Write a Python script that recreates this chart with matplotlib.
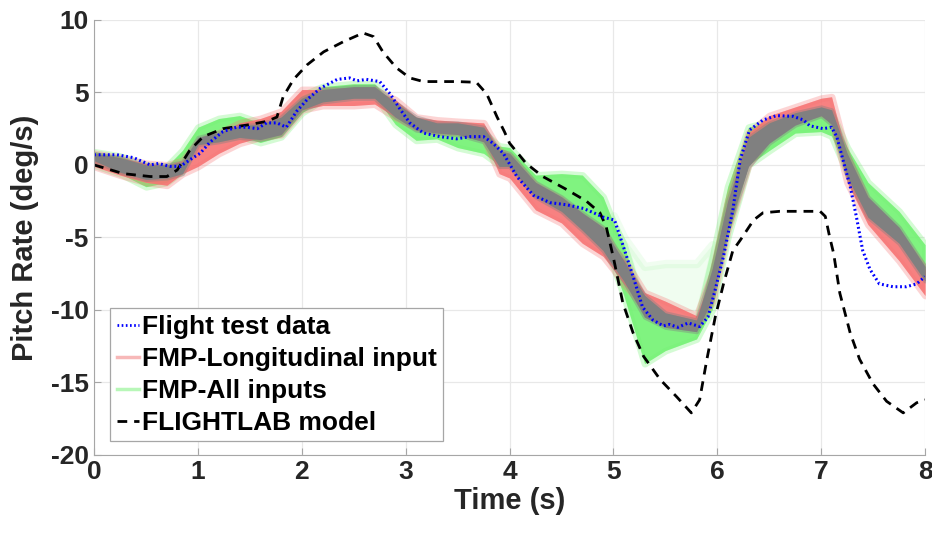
import matplotlib
matplotlib.use("Agg")
import matplotlib.pyplot as plt
from matplotlib.lines import Line2D

plt.rcParams['font.family'] = ['Liberation Sans', 'DejaVu Sans']
plt.rcParams['font.weight'] = 'bold'
plt.rcParams['axes.unicode_minus'] = False

# Flight test data (blue dotted)
flight_t = [0.0, 0.22, 0.38, 0.54, 0.62, 0.73, 0.83, 0.92, 1.02, 1.12, 1.24, 1.37, 1.47,
            1.57, 1.66, 1.76, 1.85, 1.95, 2.05, 2.18, 2.34, 2.46, 2.53, 2.62, 2.75, 2.85,
            2.95, 3.04, 3.17, 3.33, 3.49, 3.62, 3.75, 3.84, 3.94, 4.07, 4.23, 4.39, 4.55,
            4.71, 4.81, 4.9, 5.01, 5.09, 5.19, 5.28, 5.38, 5.48, 5.54, 5.62, 5.72, 5.83,
            5.91, 5.98, 6.06, 6.15, 6.22, 6.31, 6.44, 6.57, 6.73, 6.83, 6.89, 7.02, 7.1,
            7.15, 7.21, 7.28, 7.34, 7.4, 7.47, 7.56, 7.69, 7.82, 7.92, 8.0]
flight_q = [0.7, 0.7, 0.5, 0.0, 0.1, -0.1, -0.1, 0.35, 0.8, 1.6, 2.3, 2.6, 2.6,
            2.5, 2.9, 2.9, 2.6, 3.7, 4.5, 5.3, 5.9, 6.0, 5.8, 5.9, 5.75, 4.9,
            3.8, 2.9, 2.2, 1.95, 1.8, 1.95, 1.95, 1.5, 0.8, -0.8, -2.1, -2.6, -2.75,
            -3.0, -3.3, -3.6, -3.8, -5.5, -7.7, -9.8, -10.7, -11.1, -11.0, -11.2, -10.9, -11.15,
            -10.5, -8.6, -6.3, -3.1, 0.35, 2.4, 3.1, 3.4, 3.35, 3.1, 2.7, 2.5, 2.6,
            1.95, 0.35, -1.5, -3.6, -5.9, -7.2, -8.2, -8.4, -8.4, -8.2, -7.7]

# FLIGHTLAB model (black dashed)
flab_t = [0.0, 0.28, 0.54, 0.7, 0.8, 0.92, 1.05, 1.24, 1.47, 1.66, 1.76, 1.82, 1.92,
          2.05, 2.21, 2.4, 2.59, 2.69, 2.78, 2.91, 3.04, 3.17, 3.49, 3.68, 3.78, 3.88,
          3.95, 4.0, 4.16, 4.32, 4.55, 4.74, 4.87, 4.93, 5.0, 5.09, 5.19, 5.29, 5.45,
          5.61, 5.75, 5.83, 5.9, 5.98, 6.06, 6.15, 6.22, 6.35, 6.44, 6.6, 6.99, 7.04,
          7.08, 7.12, 7.18, 7.28, 7.37, 7.5, 7.63, 7.79, 7.92, 8.0]
flab_q = [0.0, -0.6, -0.8, -0.8, -0.35, 1.0, 1.95, 2.5, 2.75, 3.0, 3.3, 4.7, 5.9,
          6.9, 7.8, 8.5, 9.1, 8.85, 7.8, 6.7, 6.0, 5.75, 5.75, 5.7, 4.9, 3.3,
          2.3, 1.5, 0.1, -0.8, -1.7, -2.5, -3.3, -4.25, -6.4, -9.5, -11.6, -13.2, -14.8,
          -16.0, -17.1, -16.2, -13.4, -10.5, -8.2, -5.9, -5.2, -3.8, -3.3, -3.2, -3.2, -3.55,
          -4.9, -6.1, -8.85, -11.6, -13.4, -15.1, -16.3, -17.1, -16.4, -16.2]

# FMP prediction envelopes
band_t = [0.0, 0.25, 0.5, 0.7, 0.85, 1.0, 1.2, 1.4, 1.6, 1.8, 2.0, 2.2, 2.5, 2.7,
          2.9, 3.1, 3.3, 3.5, 3.75, 3.9, 4.0, 4.25, 4.5, 4.7, 4.9, 5.0, 5.1, 5.3,
          5.5, 5.8, 5.95, 6.1, 6.3, 6.5, 6.75, 7.0, 7.1, 7.25, 7.45, 7.75, 8.0]
red_lo = [-0.1, -0.7, -1.2, -1.4, -0.6, -0.1, 0.8, 1.5, 1.9, 2.1, 3.8, 4.1, 4.1, 4.2,
          3.3, 2.6, 2.3, 2.3, 1.9, -0.6, -0.9, -3.1, -4.0, -5.4, -6.3, -7.2, -8.2, -9.8,
          -10.8, -11.0, -9.5, -4.5, 0.0, 2.0, 3.2, 3.6, 3.2, -1.2, -4.1, -6.6, -9.0]
red_hi = [0.8, 0.5, 0.1, 0.0, 0.3, 1.6, 2.2, 2.9, 3.2, 3.7, 5.2, 5.2, 5.0, 5.2,
          4.5, 3.3, 3.1, 3.0, 2.9, 1.0, 0.6, -1.4, -2.4, -3.6, -4.5, -5.8, -6.5, -8.8,
          -9.4, -10.4, -7.5, -2.5, 2.2, 3.4, 4.0, 4.6, 4.7, 0.6, -2.6, -4.8, -7.2]
green_lo = [0.0, -0.6, -1.5, -1.2, -0.4, 1.4, 1.8, 2.0, 1.55, 1.95, 3.6, 4.5, 4.8, 4.8,
            2.8, 1.7, 1.8, 1.2, 0.8, 0.0, 0.0, -1.8, -3.0, -4.0, -5.5, -7.0, -9.0, -13.7,
            -12.8, -12.0, -10.0, -5.0, 0.0, 1.0, 2.2, 2.3, 2.0, -0.5, -3.0, -4.8, -7.5]
green_hi = [0.9, 0.6, 0.0, -0.1, 1.0, 2.6, 3.2, 3.4, 2.9, 3.2, 4.8, 5.4, 5.6, 5.6,
            4.0, 2.8, 2.6, 2.5, 2.2, 1.3, 1.2, -0.7, -0.6, -0.7, -2.2, -4.0, -5.5, -10.2,
            -10.9, -11.0, -6.5, -1.5, 2.6, 3.0, 3.2, 3.6, 3.6, 1.2, -1.2, -3.2, -5.5]
gray_lo = [0.3, -0.5, -1.0, -0.9, -0.6, 1.4, 1.6, 1.9, 1.75, 2.1, 3.8, 4.35, 4.6, 4.6,
           3.3, 2.4, 2.2, 2.1, 1.6, -0.1, -0.1, -2.2, -3.2, -4.5, -5.9, -7.0, -8.0, -10.5,
           -11.2, -11.5, -9.3, -4.5, -0.1, 1.5, 2.75, 3.4, 2.8, -0.8, -3.6, -5.4, -8.0]
gray_hi = [0.8, 0.5, 0.0, 0.0, 0.2, 1.9, 2.25, 2.7, 2.8, 3.3, 4.6, 5.2, 5.4, 5.4,
           4.3, 3.3, 2.9, 2.9, 2.6, 1.0, 0.8, -1.2, -2.2, -3.3, -4.3, -5.5, -6.6, -9.0,
           -10.2, -10.7, -7.2, -2.5, 1.9, 2.9, 3.6, 4.0, 3.8, 0.8, -2.2, -4.3, -7.0]
# faint green spread above the core during the dip
haze_t = [5.0, 5.1, 5.3, 5.5, 5.8, 5.95]
haze_lo = [-4.0, -5.5, -10.2, -10.9, -11.0, -6.5]
haze_hi = [-3.5, -5.0, -7.0, -6.8, -6.8, -5.5]

RED = '#f77373'
GREEN = '#72f272'
GRAY = '#808080'

fig = plt.figure(figsize=(9.32, 5.39), dpi=100)
ax = fig.add_axes([0.101, 0.156, 0.8915, 0.807])

ax.fill_between(haze_t, haze_lo, haze_hi, color=GREEN, alpha=0.1, lw=6)
for c, lo, hi in [(GREEN, green_lo, green_hi), (RED, red_lo, red_hi)]:
    ax.fill_between(band_t, lo, hi, color=c, alpha=0.3, lw=5)
    ax.fill_between(band_t, lo, hi, color=c, alpha=0.85, lw=0)
ax.fill_between(band_t, gray_lo, gray_hi, color=GRAY, alpha=0.4, lw=3)
ax.fill_between(band_t, gray_lo, gray_hi, color=GRAY, lw=0)

ax.plot(flab_t, flab_q, color='black', lw=2, ls=(0, (3.5, 2.5)))
ax.plot(flight_t, flight_q, color='blue', lw=2.2, ls=(0, (0.6, 0.9)))

ax.set_xlim(0, 8)
ax.set_ylim(-20, 10)
ax.set_xticks(range(0, 9))
ax.set_yticks(range(-20, 11, 5))
ax.grid(True, color='#e8e8e8', lw=0.9)
ax.set_axisbelow(True)
for s in ['top', 'right']:
    ax.spines[s].set_visible(False)
for s in ['left', 'bottom']:
    ax.spines[s].set_color('#a6a6a6')
ax.tick_params(direction='in', length=5, color='#a6a6a6', labelsize=19, pad=4,
               labelcolor='#262626')
ax.set_xlabel('Time (s)', fontsize=21, fontweight='bold', color='#262626', labelpad=2)
ax.set_ylabel('Pitch Rate (deg/s)', fontsize=21, fontweight='bold', color='#262626', labelpad=8)

handles = [
    Line2D([], [], color='blue', lw=2, ls=(0, (0.6, 0.9))),
    Line2D([], [], color='#f7b8b8', lw=2.5),
    Line2D([], [], color='#b8f7b8', lw=2.5),
    Line2D([], [], color='black', lw=2, ls=(0, (3.5, 2.5))),
]
labels = ['Flight test data', 'FMP-Longitudinal input', 'FMP-All inputs', 'FLIGHTLAB model']
leg = ax.legend(handles, labels, loc='lower left', bbox_to_anchor=(0.019, 0.031),
                borderaxespad=0, fontsize=19, fancybox=False, framealpha=1,
                edgecolor='#a6a6a6', handlelength=0.85, handletextpad=0.1,
                labelspacing=0.3, borderpad=0.25)
leg.get_frame().set_linewidth(0.9)

fig.savefig('out.png', dpi=100)
